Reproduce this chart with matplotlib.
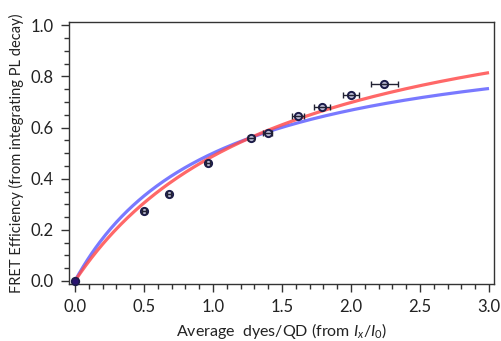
import numpy as np
import matplotlib
matplotlib.use("Agg")
import matplotlib.pyplot as plt
from matplotlib.ticker import MultipleLocator

# Data points
dyes = [0.0, 0.50, 0.679, 0.964, 1.275, 1.396, 1.618, 1.790, 2.002, 2.241]
fret = [0.0, 0.273, 0.341, 0.460, 0.560, 0.580, 0.646, 0.682, 0.728, 0.771]
dyes_err = [0.0, 0.015, 0.015, 0.015, 0.02, 0.03, 0.042, 0.058, 0.058, 0.098]

# Fit curves: E = A*n/(B+n)
red_A, red_B = 1.224, 1.505
blue_A, blue_B = 1.008, 1.016

xticks = [0.0, 0.5, 1.0, 1.5, 2.0, 2.5, 3.0]
yticks = [0.0, 0.2, 0.4, 0.6, 0.8, 1.0]

plt.rcParams['font.family'] = ['Lato', 'DejaVu Sans']
plt.rcParams['mathtext.fontset'] = 'custom'
plt.rcParams['mathtext.it'] = 'Lato:italic'
plt.rcParams['mathtext.rm'] = 'Lato'

fig = plt.figure(figsize=(5.01, 3.41), dpi=100)
ax = fig.add_axes([0.1377, 0.167, 0.986 - 0.1377, 0.9346 - 0.167])

n = np.linspace(0, 3.0, 300)
ax.plot(n, blue_A * n / (blue_B + n), color=(0.42, 0.42, 1.0), lw=2.3, alpha=0.9, zorder=2,
        solid_capstyle='butt')
ax.plot(n, red_A * n / (red_B + n), color=(1.0, 0.30, 0.30), lw=2.3, alpha=0.85, zorder=3,
        solid_capstyle='butt')

ax.plot(dyes[1:], fret[1:], 'o', ms=5.2, mfc=(0.72, 0.72, 0.82), mec='#1c1c4a', mew=1.4,
        zorder=4, ls='none')
ax.errorbar(dyes[1:], fret[1:], xerr=dyes_err[1:], fmt='none',
            ecolor='#222233', elinewidth=1.0, capsize=2.2, capthick=1.0, zorder=5)
ax.plot(dyes[:1], fret[:1], 'o', ms=5.5, mfc='#2a1470', mec='#1c1c4a', mew=1.2,
        zorder=5, clip_on=False)

ax.set_xlim(-0.043, 3.036)
ax.set_ylim(-0.012, 1.012)
ax.set_xticks(xticks)
ax.set_yticks(yticks)
ax.set_xticklabels([f"{t:.1f}" for t in xticks])
ax.set_yticklabels([f"{t:.1f}" for t in yticks])
ax.xaxis.set_minor_locator(MultipleLocator(0.1))
ax.yaxis.set_minor_locator(MultipleLocator(0.05))

for s in ax.spines.values():
    s.set_color('#333333')
    s.set_linewidth(1.0)

ax.tick_params(which='major', direction='out', length=6, width=1.0, color='#333333',
               labelsize=12, pad=5, top=False, right=False, labelcolor='#222222')
ax.tick_params(which='minor', direction='out', length=3.5, width=1.0, color='#333333',
               top=False, right=False)

ax.set_xlabel(r"Average  dyes/QD (from $I_x/I_0$)", fontsize=11.5,
              color='#222222', labelpad=4)
ax.set_ylabel("FRET Efficiency (from integrating PL decay)", fontsize=10.5,
              color='#222222', labelpad=5)

fig.savefig("out.png", dpi=100)
